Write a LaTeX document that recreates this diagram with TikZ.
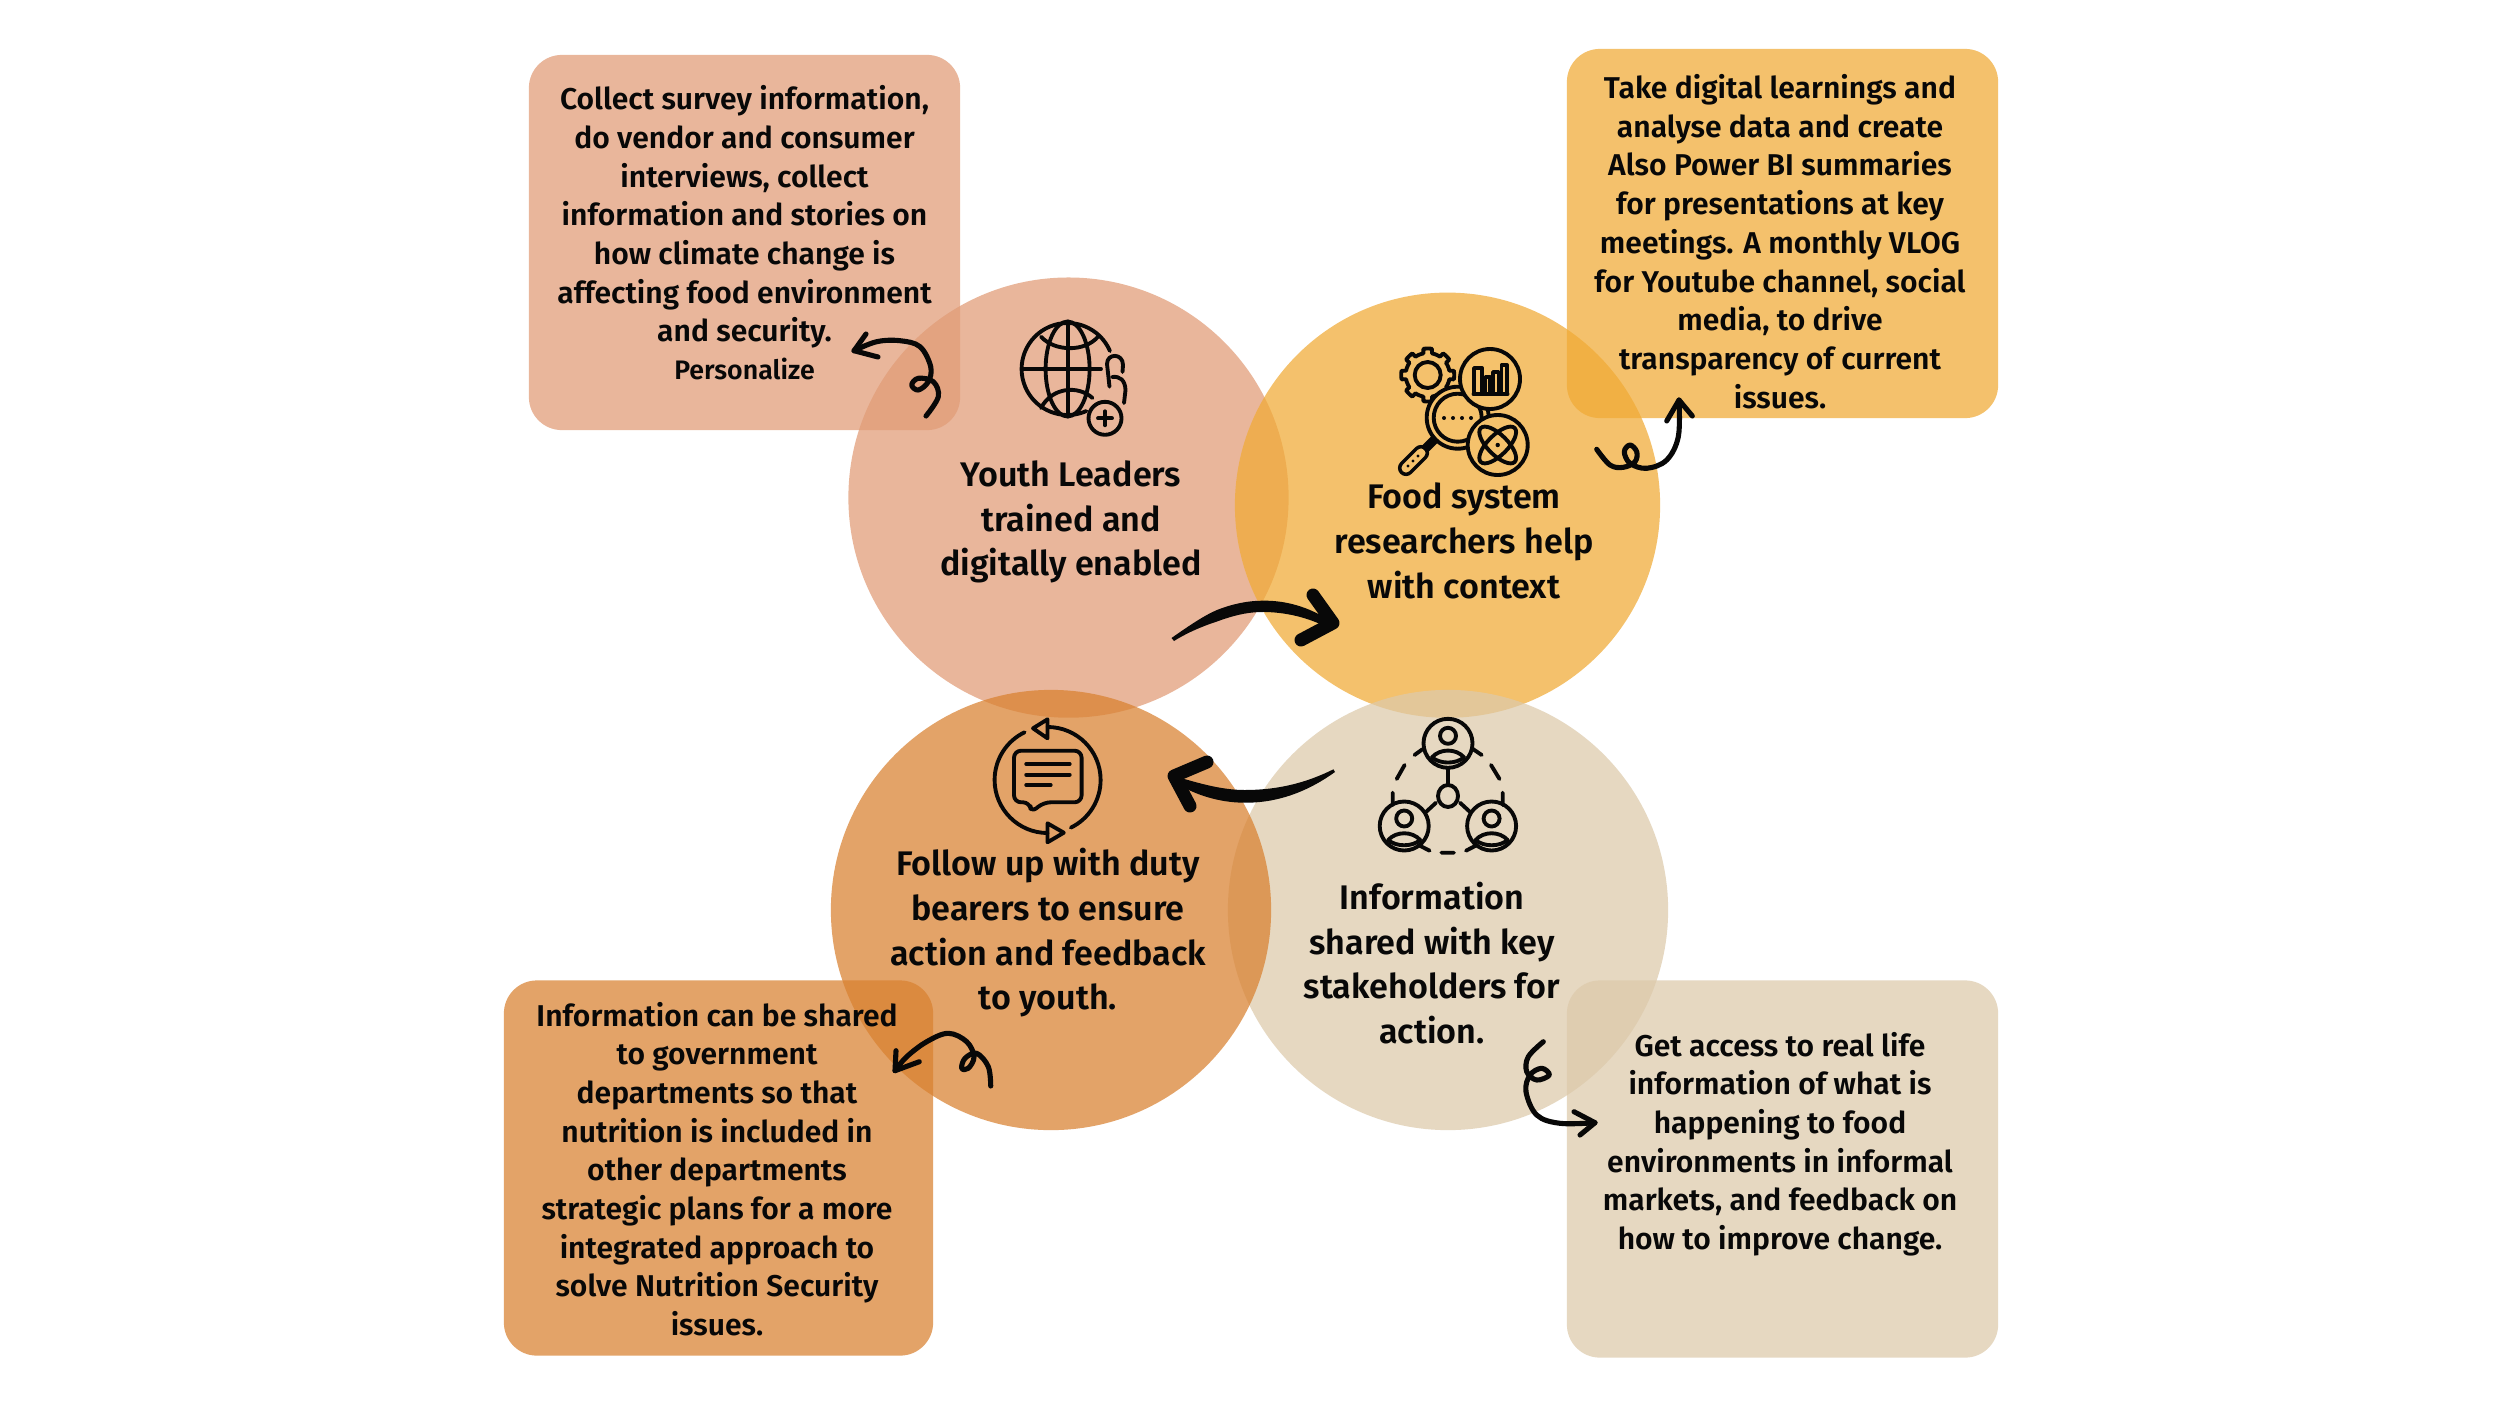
\documentclass[tikz,border=0pt]{standalone}
\usepackage{fontspec}
\setmainfont{Fira Sans SemiBold}
\definecolor{cA}{HTML}{E19C77}
\definecolor{cB}{HTML}{F1AB36}
\definecolor{cC}{HTML}{D98130}
\definecolor{cD}{HTML}{DDCAAB}
\definecolor{bgB}{RGB}{245,194,108}
\definecolor{ink}{RGB}{8,8,8}
\newcommand\bigtxt{\fontsize{9.7}{12.7}\selectfont}
\newcommand\boxtxt{\fontsize{8.55}{11}\selectfont}
\newcommand\personicon[2]{%
  \begin{scope}[shift={(#1,#2)}]
    \draw[ico] (0,0) circle (24.5);
    \draw[ico] (0,-7.5) circle (8);
    \draw[ico] (-16,14) .. controls (-8,5) and (8,5) .. (16,14);
    \draw[ico] (-16,14) .. controls (-8,21) and (8,21) .. (16,14);
  \end{scope}}
\tikzset{
  circ/.style={circle,inner sep=0pt,draw=none,fill opacity=.73},
  tbox/.style={rectangle,rounded corners=0.33cm,inner sep=0pt,draw=none,fill opacity=.73},
  lbl/.style={align=center,text=ink,inner sep=0pt},
  curl/.style={draw=ink,line width=1.45pt,line cap=round,line join=round},
  ico/.style={draw=ink,line width=1.1pt,line cap=round,line join=round},
  headline/.style={draw=ink,line width=3.7pt,line cap=round,line join=round},
}
\begin{document}
\begin{tikzpicture}[x=0.01cm,y=-0.01cm]
\useasboundingbox (0,0) rectangle (2500,1406);
\fill[white] (0,0) rectangle (2500,1406);
% circles
\node[circ,fill=cA,minimum size=4.40cm] (c1) at (1068.5,497.6) {};
\node[circ,fill=cB,minimum size=4.25cm] (c2) at (1447.5,505.2) {};
\node[circ,fill=cD,minimum size=4.40cm] (c4) at (1448,910) {};
\node[circ,fill=cC,minimum size=4.40cm] (c3) at (1051,910) {};
% boxes
\node[tbox,fill=cA,minimum width=4.31cm,minimum height=3.75cm] (b1) at (744.5,242.5) {};
\node[tbox,fill=cB,minimum width=4.31cm,minimum height=3.69cm] (b2) at (1782.5,233.5) {};
\node[tbox,fill=cC,minimum width=4.29cm,minimum height=3.75cm] (b3) at (718.5,1168) {};
\node[tbox,fill=cD,minimum width=4.31cm,minimum height=3.77cm] (b4) at (1782.5,1169) {};
% texts
\node[lbl,font=\boxtxt] (t1) at (744.5,217) {Collect survey information,\\do vendor and consumer\\interviews, collect\\information and stories on\\how climate change is\\affecting food environment\\and security.};
\node[lbl,font=\fontsize{7.6}{9}\selectfont] (t1b) at (744.5,369) {Personalize};
\node[lbl,font=\boxtxt] (t2) at (1780,241.5) {Take digital learnings and\\analyse data and create\\Also Power BI summaries\\for presentations at key\\meetings. A monthly VLOG\\for Youtube channel, social\\media, to drive\\transparency of current\\issues.};
\node[lbl,font=\boxtxt] (t3) at (717,1169) {Information can be shared\\to government\\departments so that\\nutrition is included in\\other departments\\strategic plans for a more\\integrated approach to\\solve Nutrition Security\\issues.};
\node[lbl,font=\boxtxt] (t4) at (1780,1144) {Get access to real life\\information of what is\\happening to food\\environments in informal\\markets, and feedback on\\how to improve change.};
\node[lbl,font=\bigtxt] (n1) at (1071,522) {Youth Leaders\\trained and\\digitally enabled};
\node[lbl,font=\bigtxt] (n2) at (1464,541) {Food system\\researchers help\\with context};
\node[lbl,font=\bigtxt] (n3) at (1048,933) {Follow up with duty\\bearers to ensure\\action and feedback\\to youth.};
\node[lbl,font=\bigtxt] (n4) at (1432,963) {Information\\shared with key\\stakeholders for\\action.};
% swoosh arrows between circles
\coordinate (sAtail) at (1171.5,638);
\coordinate (sAtip) at (1333,623);
\coordinate (sBtail) at (1333.4,769.3);
\coordinate (sBtip) at (1174,776);
\fill[ink] (sAtail) .. controls (1190,625) and (1205,615) .. (1217,610) .. controls (1232,604) and (1248,600.7) .. (1262,600.7) .. controls (1290,600) and (1315,610) .. (sAtip) -- (1328,628) .. controls (1310,618) and (1285,611.5) .. (1260,612) .. controls (1245,612.5) and (1232,616) .. (1217,621.5) .. controls (1200,627) and (1185,634) .. (1174,641) -- cycle;
\draw[headline] (1313,595) -- (sAtip) -- (1301,640);
\fill[ink] (sBtail) .. controls (1300,786) and (1270,790) .. (1244.5,790) .. controls (1220,790) and (1195,782) .. (sBtip) -- (1176,783) .. controls (1195,795) and (1220,802.7) .. (1244.5,802.7) .. controls (1280,803) and (1310,790) .. (1335,772) -- cycle;
\draw[headline] (1207,762) -- (sBtip) -- (1190,806);
% curly arrows
\coordinate (k1a) at (926,416); \coordinate (k1b) at (854,350.7);
\draw[curl] plot[smooth,tension=.6] coordinates {(k1a) (938.3,396.7) (933.3,381.7) (918.3,378.3) (911.7,385) (918.3,390) (928.3,381.7) (930.7,366.7) (920,346.7) (900,340.7) (876.7,341.7) (k1b)};
\draw[curl] (866,334) -- (k1b) -- (878,357);
\coordinate (k2a) at (1596.7,449.3); \coordinate (k2b) at (1679,400);
\draw[curl] plot[smooth,tension=.6] coordinates {(k2a) (1610,465) (1623.3,467.3) (1635,461.7) (1636.7,451.7) (1630,445) (1624.3,451.7) (1630,463.3) (1646.7,468.3) (1666.7,460) (1678.3,436.7) (k2b)};
\draw[curl] (1666.7,421) -- (k2b) -- (1692.3,416);
\coordinate (k3a) at (990.7,1086); \coordinate (k3b) at (895,1070.7);
\draw[curl] plot[smooth,tension=.6] coordinates {(k3a) (988.3,1066.7) (976.7,1053.3) (965,1058.3) (961.7,1068.3) (968.3,1068.3) (974,1056.7) (966.7,1041.7) (948.3,1033.3) (926.7,1041.7) (906.7,1056.7) (k3b)};
\draw[curl] (896,1050.7) -- (k3b) -- (919.3,1061.7);
\coordinate (k4a) at (1543.3,1041.7); \coordinate (k4b) at (1595,1122.7);
\draw[curl] plot[smooth,tension=.6] coordinates {(k4a) (1528.3,1056.7) (1526.7,1071.7) (1536.7,1080) (1549.3,1075) (1541.7,1068.3) (1530,1075) (1526,1091.7) (1536.7,1115) (1560,1123.3) (k4b)};
\draw[curl] (1574,1111.7) -- (k4b) -- (1580,1135);
% globe icon
\draw[ico] (1067.6,369) ++(-23:46) arc[start angle=-23,end angle=-294,radius=46];
\draw[ico] (1067.6,369) ellipse (22 and 47.5);
\draw[ico] (1067.6,321.5) -- (1067.6,416.5);
\draw[ico] (1022,369) -- (1101,369);
\draw[ico] (1041,336.7) .. controls (1055,352) and (1085,352) .. (1098,336.7);
\draw[ico] (1041,408) .. controls (1052,387) and (1078,385) .. (1092.5,398);
\draw[ico] (1109.5,386.7) -- (1107,364) .. controls (1107,353) and (1123,353) .. (1123,365) -- (1122.5,372);
\draw[ico] (1112,377) .. controls (1120,376) and (1125,380) .. (1125.5,390) -- (1124,403);
\draw[ico] (1105,418.3) circle (16.5);
\draw[ico] (1098,418.3) -- (1112,418.3) (1105,411.3) -- (1105,425.3);
% food system icon
\draw[ico] plot[samples=193,domain=0:360] ({1427.7+(22+4.5*(cos(8*\x)>0))*cos(\x)},{375+(22+4.5*(cos(8*\x)>0))*sin(\x)}) -- cycle;
\draw[ico] (1427.7,375) circle (13);
\draw[draw=ink,line width=4.6pt,line cap=round] (1421,453) -- (1406,468);
\draw[draw=bgB,line width=2.6pt,line cap=round] (1421,453) -- (1406,468);
\draw[draw=ink,line width=2.6pt] (1424,450) -- (1437,437);
\fill[ink] (1418,456) circle (1.6) (1413,461) circle (1.6) (1408,466) circle (1.6);
\draw[ico,fill=bgB] (1457.7,417.7) circle (31);
\draw[ico] (1457.7,417.7) circle (24);
\fill[ink] (1444,418) circle (2) (1453,418) circle (2) (1462,418) circle (2) (1471,418) circle (2);
\draw[ico,fill=bgB] (1490,379) circle (30);
\draw[ico] (1473.5,394) -- (1507.5,394);
\draw[ico] (1474,394) rectangle (1482,368);
\draw[ico] (1485.5,394) rectangle (1490,377);
\draw[ico] (1493,394) rectangle (1498.5,372);
\draw[ico] (1501.5,394) rectangle (1507,365);
\draw[ico,fill=bgB] (1497.7,445) circle (30);
\draw[ico,rotate around={45:(1497.7,445)}] (1497.7,445) ellipse (24 and 10);
\draw[ico,rotate around={-45:(1497.7,445)}] (1497.7,445) ellipse (24 and 10);
\fill[ink] (1497.7,445) circle (2.2);
% feedback icon
\draw[ico] (1047.6,780) ++(-90:53) arc[start angle=-90,end angle=64,radius=53];
\draw[ico] (1047.6,780) ++(90:53) arc[start angle=90,end angle=244.3,radius=53];
\draw[ico] (1033,728.3) -- (1047.5,719.3) -- (1047.5,738.3) -- cycle;
\draw[ico] (1063.8,832.7) -- (1047.5,823.3) -- (1047.5,842.3) -- cycle;
\draw[ico,rounded corners=2pt] (1014,750.7) -- (1081.6,750.7) -- (1081.6,802.3) -- (1043.6,802.3) -- (1031,812.7) -- (1030,802.3) -- (1014,802.3) -- cycle;
\draw[ico] (1026.2,764) -- (1069.7,764) (1026.2,774.7) -- (1069.7,774.7) (1026.2,785) -- (1050.7,785);
% people icon
\personicon{1448}{743.3}
\personicon{1404.2}{826}
\personicon{1491.6}{826}
\draw[ico] (1448,796) ellipse (10 and 11);
\draw[ico] (1448,768) -- (1448,785) (1436,802.7) -- (1425.6,812.3) (1460,802.7) -- (1470.4,812.3);
\draw[ico] (1414.5,755) -- (1422.4,749.3) (1481.7,755) -- (1471.8,748.3) (1404.6,765) -- (1396.7,779) (1491,765) -- (1499.5,779) (1392.7,792.7) -- (1392.7,805) (1502.7,792.7) -- (1502.7,805) (1418.5,845) -- (1429.6,850.7) (1441.4,852.7) -- (1454,852.7) (1466,850.7) -- (1477,845);
\end{tikzpicture}
\end{document}
